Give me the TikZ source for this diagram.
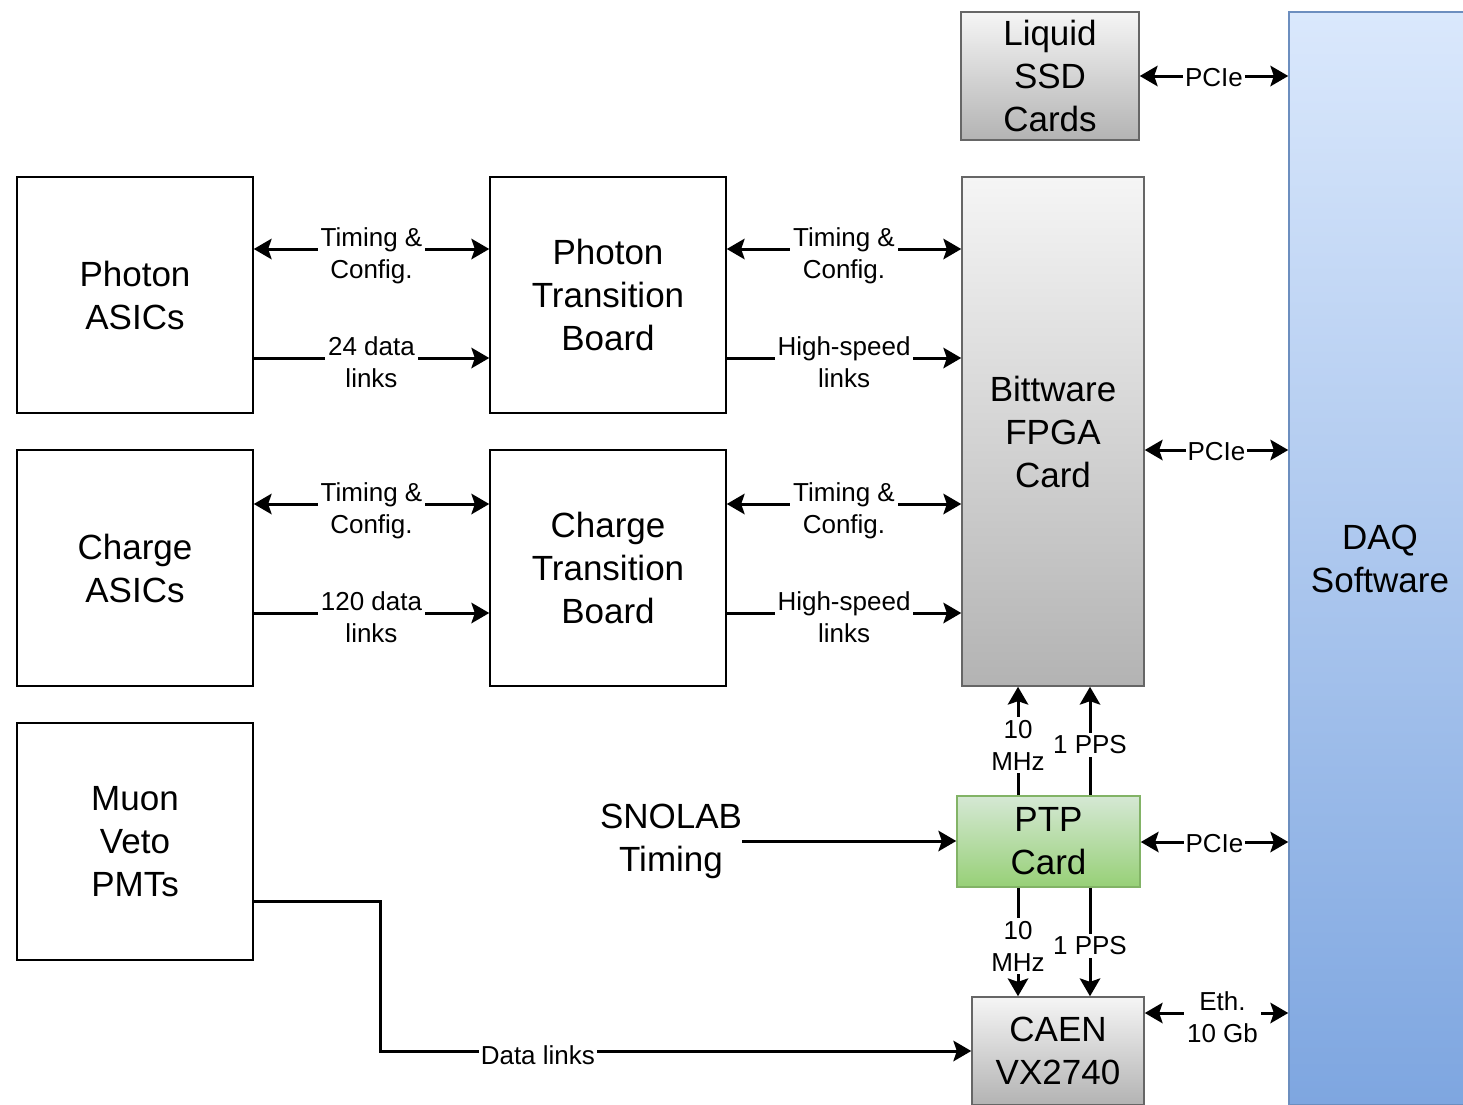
\documentclass[tikz,border=0pt]{standalone}
\usepackage{fontspec}
\setmainfont{Liberation Sans}
\usetikzlibrary{arrows.meta}
\definecolor{grayT}{HTML}{F5F5F5}
\definecolor{grayB}{HTML}{B3B3B3}
\definecolor{grayD}{HTML}{666666}
\definecolor{blueT}{HTML}{DAE8FC}
\definecolor{blueB}{HTML}{7EA6E0}
\definecolor{blueD}{HTML}{6C8EBF}
\definecolor{greenT}{HTML}{D5E8D4}
\definecolor{greenB}{HTML}{97D077}
\definecolor{greenD}{HTML}{82B366}
\newcommand{\bigfnt}{\fontsize{17.5}{21.5}\selectfont}
\newcommand{\smlfnt}{\fontsize{13}{16}\selectfont}
\begin{document}
\begin{tikzpicture}[x=0.5pt,y=-0.5pt,
  box/.style={draw=black, line width=0.8pt, fill=white, align=center, font=\bigfnt, inner sep=0pt},
  sqbox/.style={box, minimum width=118pt, minimum height=118pt},
  graybox/.style={box, draw=grayD, top color=grayT, bottom color=grayB},
  bluebox/.style={box, draw=blueD, top color=blueT, bottom color=blueB},
  greenbox/.style={box, draw=greenD, top color=greenT, bottom color=greenB},
  tip/.tip={Stealth[length=9pt,width=10.5pt,inset=1.8pt,line width=0pt]},
  arr/.style={line width=1.5pt, -tip},
  biarr/.style={line width=1.5pt, tip-tip},
  lbl/.style={fill=white, font=\smlfnt, align=center, inner sep=1.5pt, midway, yshift=-2pt},
  tlbl/.style={lbl, yshift=-1.5pt}
]
\useasboundingbox (0,0) rectangle (1463,1104);
\clip (0,0) rectangle (1463,1104);

% boxes
\node[sqbox] (pa) at (135,295) {Photon\\ASICs};
\node[sqbox] (ptb) at (608,295) {Photon\\Transition\\Board};
\node[sqbox] (ca) at (135,568) {Charge\\ASICs};
\node[sqbox] (ctb) at (608,568) {Charge\\Transition\\Board};
\node[sqbox, minimum height=118.5pt] (mv) at (135,841.5) {Muon\\Veto\\PMTs};
\node[graybox, minimum width=89pt, minimum height=64pt] (ssd) at (1050,76) {Liquid\\SSD\\Cards};
\node[graybox, minimum width=91pt, minimum height=254.5pt] (fpga) at (1053,431.5) {Bittware\\FPGA\\Card};
\node[bluebox, minimum width=91pt, minimum height=546.5pt] (daq) at (1380,558.5) {DAQ\\Software};
\node[greenbox, minimum width=91.5pt, minimum height=45.5pt] (ptp) at (1048.5,841.5) {PTP\\Card};
\node[graybox, minimum width=86pt, minimum height=54pt] (caen) at (1058,1051) {CAEN\\VX2740};
\node[font=\bigfnt, align=center, inner sep=0pt] (snolab) at (671,841) {SNOLAB\\Timing};

% ASICs <-> transition boards
\draw[biarr] (pa.east |- 0,249) -- node[tlbl]{Timing \&\\Config.} (ptb.west |- 0,249);
\draw[arr] (pa.east |- 0,358) -- node[lbl]{24 data\\links} (ptb.west |- 0,358);
\draw[biarr] (ca.east |- 0,504) -- node[tlbl]{Timing \&\\Config.} (ctb.west |- 0,504);
\draw[arr] (ca.east |- 0,613) -- node[lbl]{120 data\\links} (ctb.west |- 0,613);

% transition boards <-> FPGA
\draw[biarr] (ptb.east |- 0,249) -- node[tlbl]{Timing \&\\Config.} (fpga.west |- 0,249);
\draw[arr] (ptb.east |- 0,358) -- node[lbl]{High-speed\\links} (fpga.west |- 0,358);
\draw[biarr] (ctb.east |- 0,504) -- node[tlbl]{Timing \&\\Config.} (fpga.west |- 0,504);
\draw[arr] (ctb.east |- 0,613) -- node[lbl]{High-speed\\links} (fpga.west |- 0,613);

% to DAQ
\draw[biarr] (ssd.east |- 0,76) -- node[lbl, inner sep=1pt, yshift=1pt]{PCIe} (daq.west |- 0,76);
\draw[biarr] (fpga.east |- 0,450) -- node[lbl, inner sep=1pt, yshift=1pt]{PCIe} (daq.west |- 0,450);
\draw[biarr] (ptp.east |- 0,842) -- node[lbl, inner sep=1pt, yshift=1pt]{PCIe} (daq.west |- 0,842);
\draw[biarr] (caen.east |- 0,1013) -- node[lbl, xshift=3pt]{Eth.\\10 Gb} (daq.west |- 0,1013);

% PTP clocks
\draw[arr] (ptp.north -| 1018,0) -- node[lbl]{10\\MHz} (fpga.south -| 1018,0);
\draw[arr] (ptp.north -| 1090,0) -- node[lbl]{1 PPS} (fpga.south -| 1090,0);
\draw[arr] (ptp.south -| 1018,0) -- node[lbl]{10\\MHz} (caen.north -| 1018,0);
\draw[arr] (ptp.south -| 1090,0) -- node[lbl]{1 PPS} (caen.north -| 1090,0);

% SNOLAB timing
\draw[arr] (snolab.east) -- (ptp.west |- snolab.east);

% Muon veto to CAEN
\coordinate (b1) at (380,901);
\coordinate (b2) at (380,1051);
\draw[arr] (mv.east |- 0,901) -- (b1) -- (b2) -- node[lbl, pos=0.267, inner sep=1pt]{Data links} (caen.west |- 0,1051);
\end{tikzpicture}
\end{document}
